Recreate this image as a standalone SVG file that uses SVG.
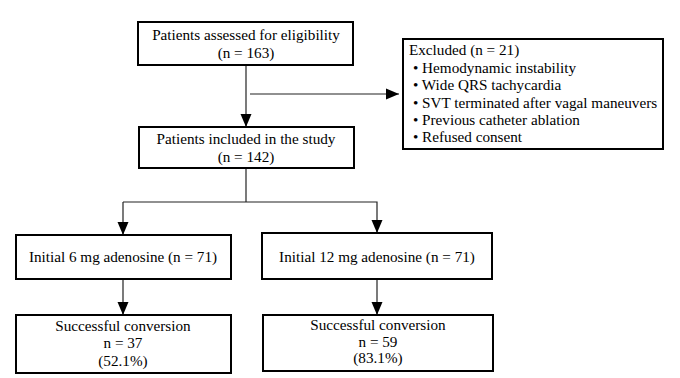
<svg xmlns="http://www.w3.org/2000/svg" width="680" height="378" viewBox="0 0 680 378">
<style>
.box{fill:#fff;stroke:#000;stroke-width:2}
text{font-family:"Liberation Serif","Times New Roman",serif;font-size:15.2px;fill:#000}
.c{text-anchor:middle}
.ln{fill:none;stroke:#222;stroke-width:1.2}
</style>
<defs>
<marker id="ahb" viewBox="0 0 13 12" refX="13" refY="6" markerWidth="13" markerHeight="12" markerUnits="userSpaceOnUse" orient="auto">
<path d="M0,0.5 L13,6 L0,11.5 Z" fill="#000"/>
</marker>
</defs>
<g id="connectors">
<line class="ln" x1="246" y1="65" x2="246" y2="127" marker-end="url(#ahb)"/>
<line class="ln" x1="250" y1="94" x2="399" y2="94" marker-end="url(#ahb)"/>
<polyline class="ln" points="246,168 246,202"/>
<polyline class="ln" points="123,202 377,202 377,233" marker-end="url(#ahb)"/>
<line class="ln" x1="123" y1="202" x2="123" y2="235" marker-end="url(#ahb)"/>
<line class="ln" x1="123" y1="279" x2="123" y2="315" marker-end="url(#ahb)"/>
<line class="ln" x1="377" y1="279" x2="377" y2="315" marker-end="url(#ahb)"/>
</g>
<g id="assessed">
<rect class="box" x="138" y="22" width="215" height="43"/>
<text class="c" x="246" y="40">Patients assessed for eligibility</text>
<text class="c" x="246" y="58">(n = 163)</text>
</g>
<g id="excluded">
<rect class="box" x="403" y="39" width="260" height="110"/>
<text x="409" y="55">Excluded (n = 21)</text>
<text x="413" y="72.5">• Hemodynamic instability</text>
<text x="413" y="90">• Wide QRS tachycardia</text>
<text x="413" y="107.5">• SVT terminated after vagal maneuvers</text>
<text x="413" y="125">• Previous catheter ablation</text>
<text x="413" y="142">• Refused consent</text>
</g>
<g id="included">
<rect class="box" x="139" y="127" width="215" height="41"/>
<text class="c" x="246" y="144">Patients included in the study</text>
<text class="c" x="246" y="162">(n = 142)</text>
</g>
<g id="six">
<rect class="box" x="16" y="235" width="215" height="44"/>
<text class="c" x="123" y="262">Initial 6 mg adenosine (n = 71)</text>
</g>
<g id="twelve">
<rect class="box" x="262" y="233" width="230" height="46"/>
<text class="c" x="377" y="262">Initial 12 mg adenosine (n = 71)</text>
</g>
<g id="success6">
<rect class="box" x="16" y="315" width="215" height="58"/>
<text class="c" x="123" y="331">Successful conversion</text>
<text class="c" x="123" y="348">n = 37</text>
<text class="c" x="123" y="366">(52.1%)</text>
</g>
<g id="success12">
<rect class="box" x="263" y="315" width="230" height="56"/>
<text class="c" x="378" y="330">Successful conversion</text>
<text class="c" x="378" y="346.5">n = 59</text>
<text class="c" x="378" y="363">(83.1%)</text>
</g>
</svg>
